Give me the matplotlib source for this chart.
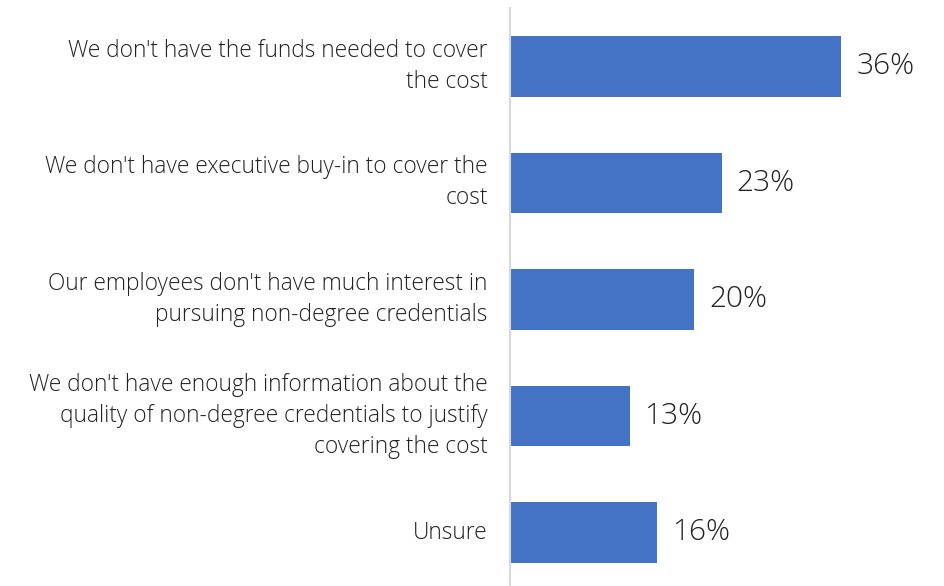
import matplotlib
matplotlib.use("Agg")
import matplotlib.pyplot as plt

categories = [
    "We don't have the funds needed to cover\nthe cost",
    "We don't have executive buy-in to cover the\ncost",
    "Our employees don't have much interest in\npursuing non-degree credentials",
    "We don't have enough information about the\nquality of non-degree credentials to justify\ncovering the cost",
    "Unsure",
]
values = [36, 23, 20, 13, 16]
value_labels = ["36%", "23%", "20%", "13%", "16%"]

bar_color = "#4472C4"
text_color = "#222222"

plt.rcParams["font.family"] = ["Open Sans", "DejaVu Sans"]

fig = plt.figure(figsize=(9.45, 5.86), dpi=100)
ax = fig.add_axes([510 / 945, -5 / 586, (880 - 510) / 945, 583 / 586])

y = list(range(len(categories)))
ax.barh(y, values, height=0.52, color=bar_color)
ax.set_ylim(len(categories) - 0.5, -0.5)
ax.set_xlim(0, 36 * (880 - 510) / (841.5 - 510))

for yi, v, lab in zip(y, values, value_labels):
    ax.text(v + 1.6, yi, lab, va="center", ha="left", fontsize=21.5,
            color=text_color, fontweight="light")

ax.set_yticks(y)
ax.set_yticklabels(categories, fontsize=16.4, color=text_color,
                   fontweight="light", linespacing=1.38)
for lbl in ax.get_yticklabels():
    lbl.set_verticalalignment("center")
ax.tick_params(axis="y", length=0, pad=16)
ax.set_xticks([])

for side in ["top", "right", "bottom"]:
    ax.spines[side].set_visible(False)
ax.spines["left"].set_color("#d9d9d9")
ax.spines["left"].set_linewidth(1.5)

fig.savefig("out.png", dpi=100)
